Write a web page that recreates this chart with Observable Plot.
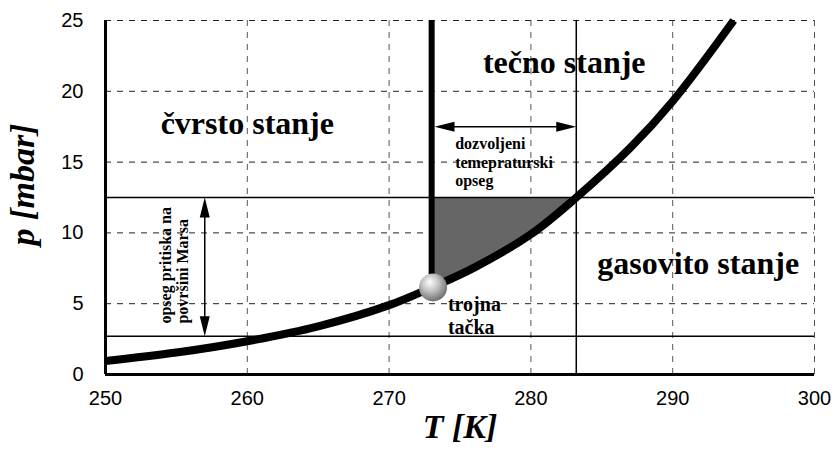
<!DOCTYPE html>
<html>
<head>
<meta charset="utf-8">
<script src="https://cdn.jsdelivr.net/npm/d3@7"></script>
<script src="https://cdn.jsdelivr.net/npm/@observablehq/plot@0.6"></script>
<style>
  html, body { margin: 0; padding: 0; background: #fff; }
  #chart svg { display: block; }
</style>
</head>
<body>
<div id="chart"></div>
<script>
// ---- data ----
const curveT = [250, 255, 260, 265, 270, 273, 276, 280, 283.2, 287, 290, 294.3];
const curveP = [0.95, 1.55, 2.35, 3.4, 4.9, 6.15, 7.55, 9.9, 12.5, 16.0, 19.3, 25];
const xTicks = [250, 260, 270, 280, 290, 300];
const yTicks = [0, 5, 10, 15, 20, 25];
const marsPressure = [2.7, 12.5];      // opseg pritiska na površini Marsa
const tempRange = [273, 283.2];        // dozvoljeni temperaturski opseg
const meltT = 273;
const tripleT = 273.1, tripleP = 6.15;
const pressureArrowT = 257;
const tempArrowP = 17.5;
const regionLabels = ["čvrsto stanje", "tečno stanje", "gasovito stanje"];
const regionT = [260, 282.35, 291.8];
const regionP = [17.74, 22, 7.85];
const noteLabels = ["dozvoljeni\ntemepraturski\nopseg", "trojna\ntačka"];
const noteT = [274.66, 274.15];
const noteP = [16.83, 5.59];
const marsLabel = "opseg pritiska na\npovršini Marsa";
const marsLabelT = 254.81, marsLabelP = 3.6;
const xTitle = "T [K]", yTitle = "p [mbar]";
const xTitlePos = [275, -3.72];
const yTitlePos = [244.2, 13.42];

// ---- derived tables ----
const curve = curveT.map((T, i) => ({T, p: curveP[i]}));
const shaded = curve.filter(d => d.T >= tempRange[0] && d.T <= tempRange[1]);
const regions = regionLabels.map((t, i) => ({t, T: regionT[i], p: regionP[i]}));
const notes = noteLabels.map((t, i) => ({t, T: noteT[i], p: noteP[i]}));

const head = {
  draw(ctx, size) {
    const r = Math.sqrt(size / Math.PI);
    ctx.moveTo(0, 0);
    ctx.lineTo(r * 0.5, r * 2);
    ctx.lineTo(-r * 0.5, r * 2);
    ctx.closePath();
  }
};
const heads = [
  {T: pressureArrowT, p: marsPressure[1], rot: 0},
  {T: pressureArrowT, p: marsPressure[0], rot: 180},
  {T: tempRange[0] + 0.2, p: tempArrowP, rot: -90},
  {T: tempRange[1], p: tempArrowP, rot: 90}
];

const serif = "'Liberation Serif', 'Times New Roman', serif";

const chart = Plot.plot({
  width: 834,
  height: 454,
  marginLeft: 105,
  marginRight: 20,
  marginTop: 20,
  marginBottom: 80,
  style: {fontFamily: "'Liberation Sans', Arial, sans-serif", fontSize: "20px", background: "#fff", color: "#000"},
  x: {domain: [250, 300], label: null},
  y: {domain: [0, 25], label: null},
  marks: [
    Plot.gridX(xTicks, {stroke: "#555", strokeOpacity: 1, strokeDasharray: "6,6", strokeWidth: 1}),
    Plot.gridY(yTicks, {stroke: "#222", strokeOpacity: 1, strokeDasharray: "6,6", strokeWidth: 1}),
    Plot.areaY(shaded, {x: "T", y1: "p", y2: marsPressure[1], fill: "#666", curve: "catmull-rom"}),
    Plot.ruleY(marsPressure, {stroke: "#000", strokeWidth: 1.5}),
    Plot.ruleX([tempRange[1]], {stroke: "#000", strokeWidth: 1.5}),
    Plot.line(curve, {x: "T", y: "p", stroke: "#000", strokeWidth: 8, curve: "catmull-rom", strokeLinecap: "butt"}),
    Plot.ruleX([meltT], {y1: tripleP, y2: 25, stroke: "#000", strokeWidth: 6}),
    Plot.ruleX([250], {stroke: "#000", strokeWidth: 3}),
    Plot.ruleY([0], {stroke: "#000", strokeWidth: 3}),
    // arrows
    Plot.ruleX([pressureArrowT], {y1: marsPressure[0] + 0.8, y2: marsPressure[1] - 0.8, stroke: "#000", strokeWidth: 1.5}),
    Plot.ruleY([tempArrowP], {x1: tempRange[0] + 0.8, x2: tempRange[1] - 0.8, stroke: "#000", strokeWidth: 1.5}),
    Plot.dot(heads, {x: "T", y: "p", rotate: "rot", symbol: head, r: 10, fill: "#000", stroke: "none"}),
    // triple point sphere
    Plot.dot([{T: tripleT, p: tripleP}], {x: "T", y: "p", r: 14, fill: "url(#sphere)", stroke: "none"}),
    // axes
    Plot.axisX(xTicks, {tickSize: 0, tickPadding: 16, fontSize: 20, tickFormat: d => String(d), label: null}),
    Plot.axisY(yTicks, {tickSize: 0, tickPadding: 22, fontSize: 20, tickFormat: d => String(d), label: null}),
    // labels
    Plot.text(regions, {x: "T", y: "p", text: "t", fontFamily: serif, fontWeight: "bold", fontSize: 32, fill: "#000"}),
    Plot.text(notes.slice(0, 1), {x: "T", y: "p", text: "t", fontFamily: serif, fontWeight: "bold", fontSize: 16, lineHeight: 1.15, textAnchor: "start", lineAnchor: "top", fill: "#000"}),
    Plot.text(notes.slice(1), {x: "T", y: "p", text: "t", fontFamily: serif, fontWeight: "bold", fontSize: 20, lineHeight: 1.13, textAnchor: "start", lineAnchor: "top", fill: "#000"}),
    Plot.text([marsLabel], {x: marsLabelT, y: marsLabelP, text: d => d, rotate: -90, textAnchor: "start", lineAnchor: "middle", lineHeight: 1.06, fontFamily: serif, fontWeight: "bold", fontSize: 16, fill: "#000"}),
    Plot.text([xTitle], {x: xTitlePos[0], y: xTitlePos[1], text: d => d, fontFamily: serif, fontWeight: "bold", fontStyle: "italic", fontSize: 34, fill: "#000"}),
    Plot.text([yTitle], {x: yTitlePos[0], y: yTitlePos[1], text: d => d, rotate: -90, fontFamily: serif, fontWeight: "bold", fontStyle: "italic", fontSize: 34, fill: "#000"})
  ]
});

// radial gradient for the triple point sphere
const ns = "http://www.w3.org/2000/svg";
const defs = document.createElementNS(ns, "defs");
defs.innerHTML = '<radialGradient id="sphere" cx="0.42" cy="0.38" r="0.65" fx="0.38" fy="0.3">' +
  '<stop offset="0" stop-color="#ffffff"/>' +
  '<stop offset="0.45" stop-color="#c4c4c4"/>' +
  '<stop offset="1" stop-color="#6a6a6a"/></radialGradient>';
chart.insertBefore(defs, chart.firstChild);
document.getElementById("chart").appendChild(chart);
</script>
</body>
</html>
